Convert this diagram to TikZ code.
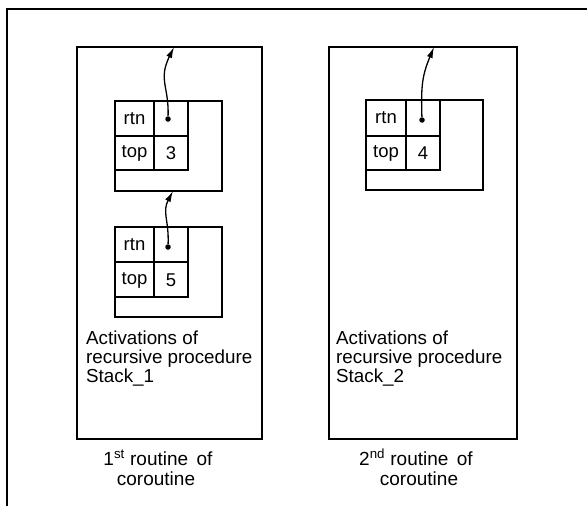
\documentclass[tikz,border=0pt]{standalone}
\usepackage{fontspec}
\setmainfont{Liberation Sans}
\usetikzlibrary{arrows.meta}
\begin{document}
\begin{tikzpicture}[x=1pt,y=-1pt,
  frame/.style={line width=2pt},
  box/.style={line width=2pt},
  ptr/.style={line width=1.3pt,-{Latex[length=11pt,width=6pt]}},
  dotnode/.style={circle,fill=black,inner sep=0pt,minimum size=5.5pt},
  cell/.style={font=\fontsize{18.5}{18.5}\selectfont,inner sep=0pt},
  caption/.style={font=\fontsize{18.8}{18.6}\selectfont,align=left,anchor=base west,inner sep=0pt},
  label/.style={font=\fontsize{19}{19}\selectfont,anchor=base,inner sep=0pt}]
\useasboundingbox (0,0) rectangle (587,506);
% outer frame (only top and left visible)
\draw[frame] (7,506) -- (7,9) -- (587,9);
% routine boxes
\draw[box] (77,47) rectangle (262,439);
\draw[box] (329,47) rectangle (517,439);
% left record 1
\draw[box] (115,101) rectangle (222,191);
\draw[box] (115,101) rectangle (188,170);
\draw[box] (154,101) -- (154,170);
\draw[box] (115,136) -- (188,136);
\node[cell] (l1rtn) at (134.5,119) {rtn};
\node[cell] (l1top) at (134.5,153) {top};
\node[cell] (l1val) at (171,153) {3};
\node[dotnode] (l1dot) at (168,119) {};
% left record 2
\draw[box] (115,227) rectangle (222,317);
\draw[box] (115,227) rectangle (188,297);
\draw[box] (154,227) -- (154,297);
\draw[box] (115,262) -- (188,262);
\node[cell] (l2rtn) at (134.5,245) {rtn};
\node[cell] (l2top) at (134.5,280) {top};
\node[cell] (l2val) at (171,280) {5};
\node[dotnode] (l2dot) at (168,247) {};
% right record
\draw[box] (366,100) rectangle (483,190);
\draw[box] (366,100) rectangle (440,170);
\draw[box] (406,100) -- (406,170);
\draw[box] (366,136) -- (440,136);
\node[cell] (r1rtn) at (386,118) {rtn};
\node[cell] (r1top) at (386,153) {top};
\node[cell] (r1val) at (423,153) {4};
\node[dotnode] (r1dot) at (422,120) {};
% arrow targets
\coordinate (l1tip) at (174,47);
\coordinate (l2tip) at (173,191);
\coordinate (r1tip) at (434,47);
\draw[ptr] (l1dot) .. controls (169,86) and (158,80) .. (l1tip);
\draw[ptr] (l2dot) .. controls (169,220) and (162,212) .. (l2tip);
\draw[ptr] (r1dot) .. controls (421,86) and (422,76) .. (r1tip);
% captions (anchored at the baseline of the last line)
\node[caption] (capL) at (86,382) {Activations of\\recursive procedure\\Stack\_1};
\node[caption] (capR) at (336,382) {Activations of\\recursive procedure\\Stack\_2};
\node[label] (labL1) at (158,465) {1\textsuperscript{st} routine\, of};
\node[label] (labL2) at (156,485) {coroutine};
\node[label] (labR1) at (416,465) {2\textsuperscript{nd} routine\, of};
\node[label] (labR2) at (419,485) {coroutine};
\end{tikzpicture}
\end{document}
